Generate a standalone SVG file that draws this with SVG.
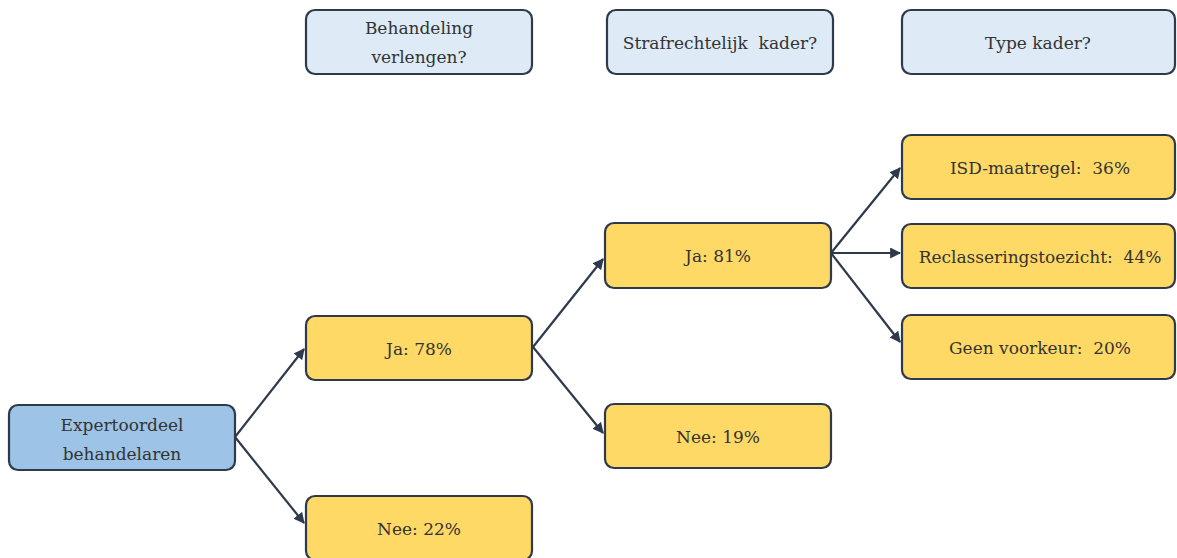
<svg xmlns="http://www.w3.org/2000/svg" width="1177" height="558" viewBox="0 0 1177 558">
<style>
.box{stroke:#2e3a4c;stroke-width:2.2}
.q{fill:#deebf7}
.y{fill:#fed966}
.b{fill:#9dc3e6}
.t{font-family:'DejaVu Serif','Liberation Serif',serif;font-size:17px;fill:#333;text-anchor:middle;white-space:pre}
.c{stroke:#2e3a4c;stroke-width:2.2;fill:none;marker-end:url(#ah)}
</style>
<defs>
<marker id="ah" viewBox="0 0 10 10" refX="9" refY="5" markerWidth="5" markerHeight="5" orient="auto" markerUnits="strokeWidth">
<path d="M0,0 L10,5 L0,10 Z" fill="#2e3a4c"/>
</marker>
</defs>
<rect width="1177" height="558" fill="#ffffff"/>
<g id="connectors">
<line class="c" x1="235" y1="437" x2="304" y2="349"/>
<line class="c" x1="235" y1="437" x2="304" y2="523"/>
<line class="c" x1="533" y1="347" x2="603" y2="259"/>
<line class="c" x1="533" y1="347" x2="603" y2="433"/>
<line class="c" x1="831" y1="253" x2="900" y2="168"/>
<line class="c" x1="831" y1="253" x2="900" y2="253"/>
<line class="c" x1="831" y1="253" x2="900" y2="342"/>
</g>
<g id="h1"><rect class="box q" x="306" y="10" width="226" height="64" rx="9"/><text class="t" x="419" y="34">Behandeling</text><text class="t" x="419" y="63">verlengen?</text></g>
<g id="h2"><rect class="box q" x="607" y="10" width="226" height="64" rx="9"/><text class="t" x="720" y="49">Strafrechtelijk  kader?</text></g>
<g id="h3"><rect class="box q" x="902" y="10" width="273" height="64" rx="9"/><text class="t" x="1038" y="49">Type kader?</text></g>
<g id="root"><rect class="box b" x="9" y="405" width="226" height="65" rx="9"/><text class="t" x="122" y="431">Expertoordeel</text><text class="t" x="122" y="460">behandelaren</text></g>
<g id="ja78"><rect class="box y" x="306" y="316" width="226" height="64" rx="9"/><text class="t" x="419" y="355">Ja: 78%</text></g>
<g id="nee22"><rect class="box y" x="306" y="496" width="226" height="64" rx="9"/><text class="t" x="419" y="535">Nee: 22%</text></g>
<g id="ja81"><rect class="box y" x="605" y="223" width="226" height="65" rx="9"/><text class="t" x="718" y="262">Ja: 81%</text></g>
<g id="nee19"><rect class="box y" x="605" y="404" width="226" height="64" rx="9"/><text class="t" x="718" y="443">Nee: 19%</text></g>
<g id="isd"><rect class="box y" x="902" y="135" width="273" height="64" rx="9"/><text class="t" x="1040" y="174">ISD-maatregel:  36%</text></g>
<g id="recl"><rect class="box y" x="902" y="224" width="273" height="64" rx="9"/><text class="t" x="1040" y="263">Reclasseringstoezicht:  44%</text></g>
<g id="geen"><rect class="box y" x="902" y="315" width="273" height="64" rx="9"/><text class="t" x="1040" y="354">Geen voorkeur:  20%</text></g>
</svg>
